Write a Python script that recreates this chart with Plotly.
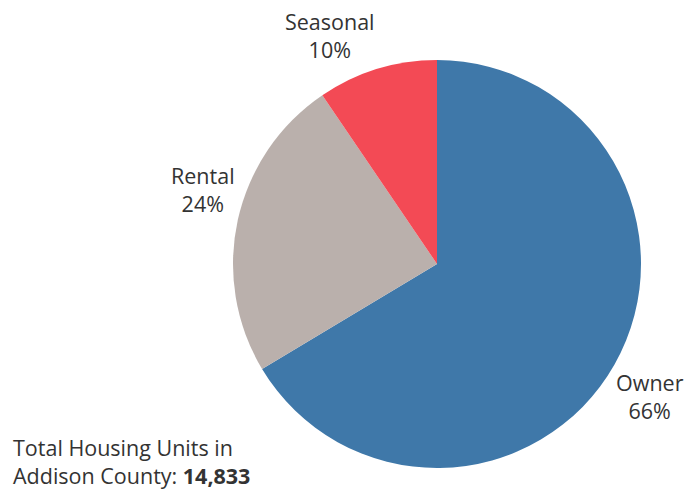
import plotly.graph_objects as go

categories = ["Owner", "Rental", "Seasonal"]
units = [9849, 3575, 1409]
pct_labels = ["66%", "24%", "10%"]
colors = ["#3f78a9", "#bab0ac", "#f34a55"]
total_units = "14,833"

W, H = 686, 492
cx, cy, r = 437, 264, 204

fig = go.Figure(go.Pie(
    labels=categories,
    values=units,
    sort=False,
    direction="clockwise",
    rotation=0,
    marker=dict(colors=colors, line=dict(width=0)),
    textinfo="none",
    hoverinfo="label+percent",
    domain=dict(x=[(cx - r) / W, (cx + r) / W], y=[1 - (cy + r) / H, 1 - (cy - r) / H]),
))

font = dict(family="'Open Sans', sans-serif", size=21.5, color="#333333")
label_pos = {"Owner": (650, 396), "Rental": (203, 189), "Seasonal": (330, 36)}
ann = []
for c, p in zip(categories, pct_labels):
    x, y = label_pos[c]
    ann.append(dict(x=x / W, y=1 - y / H, xref="paper", yref="paper", text=f"{c}<br>{p}",
                    showarrow=False, font=font, xanchor="center", yanchor="middle", align="center"))
ann.append(dict(x=11 / W, y=1 - 461 / H, xref="paper", yref="paper",
                text=f"Total Housing Units in<br>Addison County: <b>{total_units}</b>",
                showarrow=False, font=font, xanchor="left", yanchor="middle", align="left"))

fig.update_layout(
    width=W, height=H,
    margin=dict(l=0, r=0, t=0, b=0),
    showlegend=False,
    paper_bgcolor="white",
    annotations=ann,
)
fig.write_html("out.html", config={"displayModeBar": False},
               post_script="document.body.style.margin='0';")
